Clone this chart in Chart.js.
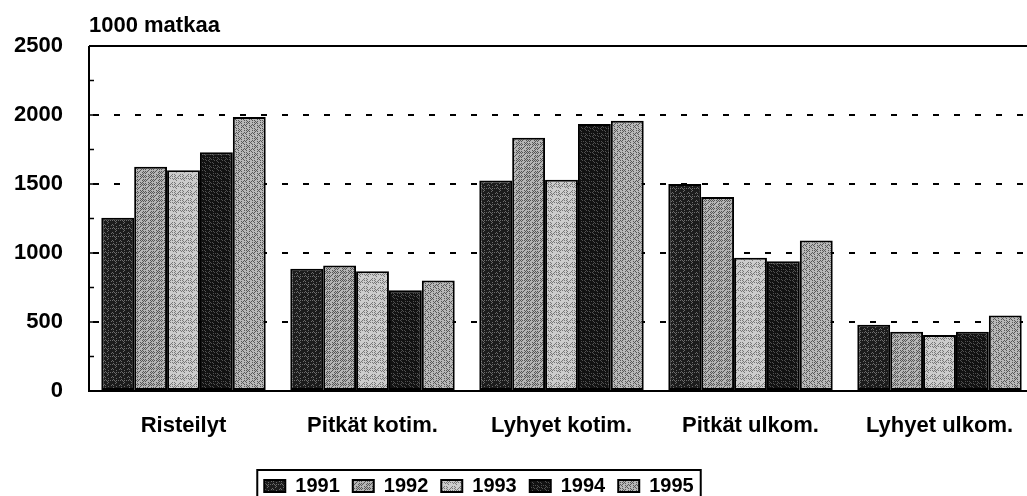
<!DOCTYPE html>
<html>
<head>
<meta charset="utf-8">
<script src="https://cdn.jsdelivr.net/npm/chart.js@4"></script>
<style>
  html, body { margin: 0; padding: 0; background: #fff; overflow: hidden; }
  #wrap { width: 1027px; height: 496px; overflow: hidden; }
</style>
</head>
<body>
<div id="wrap"><canvas id="chart" width="1036" height="496"></canvas></div>
<script>
const categories = ['Risteilyt', 'Pitkät kotim.', 'Lyhyet kotim.', 'Pitkät ulkom.', 'Lyhyet ulkom.'];
const years = ['1991', '1992', '1993', '1994', '1995'];
const values1991 = [1255, 885, 1525, 1500, 480];
const values1992 = [1625, 910, 1835, 1405, 430];
const values1993 = [1600, 868, 1530, 965, 405];
const values1994 = [1730, 730, 1935, 940, 430];
const values1995 = [1985, 800, 1958, 1090, 547];
const yTicks = [0, 500, 1000, 1500, 2000, 2500];
const unitLabel = '1000 matkaa';

const FONT = 'Liberation Sans, Arial, sans-serif';

// dither textures so the bars look like the printed greys
function makePattern(base, dots, seed) {
    const c = document.createElement('canvas');
    c.width = 8; c.height = 8;
    const g = c.getContext('2d');
    g.fillStyle = base;
    g.fillRect(0, 0, 8, 8);
    g.fillStyle = dots;
    let s = seed;
    for (let y = 0; y < 8; y++) {
        for (let x = 0; x < 8; x++) {
            s = (s * 9301 + 49297) % 233280;
            if ((x + y) % 2 === 0 && s / 233280 < 0.5) g.fillRect(x, y, 1, 1);
        }
    }
    return g.createPattern(c, 'repeat');
}

const fills = [
    makePattern('#1c1c1c', '#6a6a6a', 3),
    makePattern('#b4b4b4', '#555555', 7),
    makePattern('#cccccc', '#777777', 11),
    makePattern('#121212', '#505050', 5),
    makePattern('#b8b8b8', '#585858', 13)
];

const seriesValues = [values1991, values1992, values1993, values1994, values1995];

const framePlugin = {
    id: 'frame',
    afterLayout(chart) {
        // legend sits a bit left of centre in the original
        chart.legend.left -= 38;
        chart.legend.right -= 38;
    },
    afterDraw(chart) {
        const ctx = chart.ctx;
        const a = chart.chartArea;
        const y = chart.scales.y;
        ctx.save();
        ctx.strokeStyle = '#000';
        ctx.lineWidth = 2;
        ctx.beginPath();
        ctx.moveTo(a.left, a.top);
        ctx.lineTo(chart.width, a.top);
        ctx.moveTo(a.left, a.top);
        ctx.lineTo(a.left, a.bottom);
        ctx.lineTo(chart.width, a.bottom);
        ctx.stroke();
        // small inner ticks every 250
        ctx.lineWidth = 1.5;
        for (let v = 250; v < 2500; v += 250) {
            const py = y.getPixelForValue(v);
            ctx.beginPath();
            ctx.moveTo(a.left, py);
            ctx.lineTo(a.left + 5, py);
            ctx.stroke();
        }
        // unit label
        ctx.fillStyle = '#000';
        ctx.font = 'bold 22px ' + FONT;
        ctx.textBaseline = 'alphabetic';
        ctx.textAlign = 'left';
        ctx.fillText(unitLabel, a.left, 32);
        // legend frame
        const boxes = chart.legend.legendHitBoxes;
        if (boxes && boxes.length) {
            const first = boxes[0];
            const last = boxes[boxes.length - 1];
            const x0 = first.left - 7;
            const x1 = last.left + last.width + 7;
            ctx.lineWidth = 2;
            ctx.strokeRect(x0, first.top - 6, x1 - x0, first.height + 9);
        }
        ctx.restore();
    }
};

new Chart(document.getElementById('chart'), {
    type: 'bar',
    data: {
        labels: categories,
        datasets: years.map((yr, i) => ({
            label: yr,
            data: seriesValues[i],
            backgroundColor: fills[i],
            borderColor: '#000',
            borderWidth: 2,
            borderSkipped: false
        }))
    },
    options: {
        responsive: false,
        animation: false,
        devicePixelRatio: 1,
        layout: { padding: { left: 0, right: 2, top: 46, bottom: -10 } },
        datasets: {
            bar: { categoryPercentage: 0.87, barPercentage: 1.0 }
        },
        plugins: {
            tooltip: { enabled: false },
            legend: {
                position: 'bottom',
                labels: {
                    color: '#000',
                    font: { family: FONT, size: 20, weight: 'bold' },
                    boxWidth: 21,
                    boxHeight: 12,
                    padding: 13
                }
            }
        },
        scales: {
            x: {
                grid: { display: false },
                border: { display: false },
                ticks: {
                    color: '#000',
                    font: { family: FONT, size: 22, weight: 'bold' },
                    padding: 14,
                    maxRotation: 0,
                    autoSkip: false
                },
                afterFit(scale) { scale.height = 72; }
            },
            y: {
                min: 0,
                max: 2500,
                afterBuildTicks(scale) {
                    scale.ticks = yTicks.map(v => ({ value: v }));
                },
                border: { display: false, dash: [6, 15], dashOffset: 17 },
                grid: {
                    drawTicks: false,
                    color: ctx => (ctx.tick && ctx.tick.value > 0 && ctx.tick.value < 2500) ? '#000' : 'rgba(0,0,0,0)',
                    lineWidth: 2
                },
                ticks: {
                    color: '#000',
                    font: { family: FONT, size: 22, weight: 'bold' },
                    padding: 26,
                    callback: v => String(v)
                },
                afterFit(scale) { scale.width = 89; }
            }
        }
    },
    plugins: [framePlugin]
});
</script>
</body>
</html>
